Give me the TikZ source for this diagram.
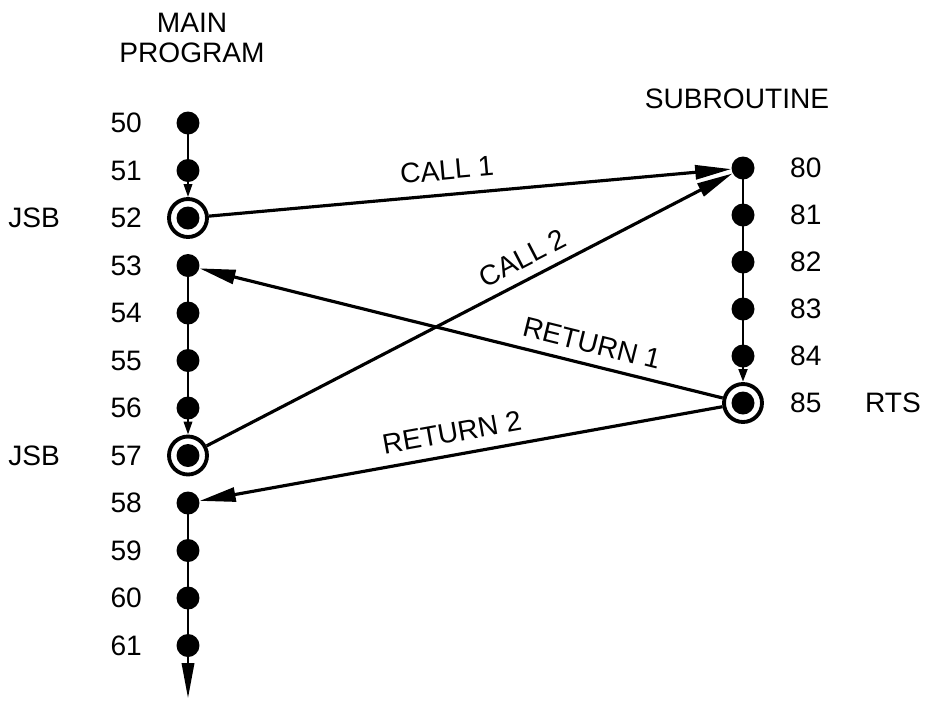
\documentclass[tikz,border=0pt]{standalone}
\usepackage{fontspec}
\setmainfont{Liberation Sans}
\usetikzlibrary{arrows.meta, positioning, calc}

\begin{document}
\begin{tikzpicture}[x=0.02cm, y=-0.02cm, >=Latex]

        % Estilos
        \tikzstyle{dot} = [circle, fill=black, inner sep=0pt, minimum size=0.46cm]
        \tikzstyle{ring} = [circle, draw=black, line width=2.2pt, inner sep=0pt, minimum size=0.76cm]
        \tikzstyle{lbl} = [font=\fontsize{16}{17}\selectfont, inner sep=0pt]
        \tikzstyle{jump} = [-{Triangle[length=0.72cm, width=0.28cm]}, line width=1.8pt]
        \tikzstyle{back} = [{Triangle[length=0.72cm, width=0.28cm]}-, line width=1.8pt]
        \tikzstyle{flow} = [-{Triangle[length=0.26cm, width=0.17cm]}, line width=1.1pt]

        \useasboundingbox (0,0) rectangle (927,701);

        % Titulos
        \node [lbl, align=center] (maintitle) at (192,38) {MAIN\\PROGRAM};
        \node [lbl] (subtitle) at (737,99) {SUBROUTINE};

        % Programa principal
        \foreach \n [count=\i from 0] in {50,...,61} {
            \node [dot] (m\n) at (188, 123+47.5*\i) {};
            \node [lbl, left=0.68cm of m\n] (n\n) {\n};
        }

        % Subrotina
        \foreach \n [count=\i from 0] in {80,...,85} {
            \node [dot] (s\n) at (743, 168+47*\i) {};
            \node [lbl, right=0.7cm of s\n] (n\n) {\n};
        }

        % Aneis de salto e retorno
        \node [ring] (j52) at (m52) {};
        \node [ring] (j57) at (m57) {};
        \node [ring] (r85) at (s85) {};
        \node [lbl, left=1cm of n52] (jsb52) {JSB};
        \node [lbl, left=1cm of n57] (jsb57) {JSB};
        \node [lbl, right=0.86cm of n85] (rts85) {RTS};

        % Fluxo sequencial
        \coordinate (mend) at (188,698);
        \draw [flow] (m50.center) -- (j52.north);
        \draw [flow] (m53.center) -- (j57.north);
        \draw [-{Triangle[length=0.7cm, width=0.25cm]}, line width=1.1pt] (m58.center) -- (mend);
        \draw [flow, line width=1.7pt] (s80.center) -- (r85.north);

        % Chamadas e retornos
        \draw [jump] (j52) -- node[lbl, sloped, pos=0.46, above=0.26cm] {CALL 1} (s80);
        \draw [jump] (j57) -- node[lbl, sloped, pos=0.62, above=0.2cm] {CALL 2} (s80);
        \draw [back] (m53) -- node[lbl, sloped, pos=0.74, above=0.2cm] {RETURN 1} (r85);
        \draw [back] (m58) -- node[lbl, sloped, pos=0.49, above=0.22cm] {RETURN 2} (r85);
    \end{tikzpicture}
\end{document}
